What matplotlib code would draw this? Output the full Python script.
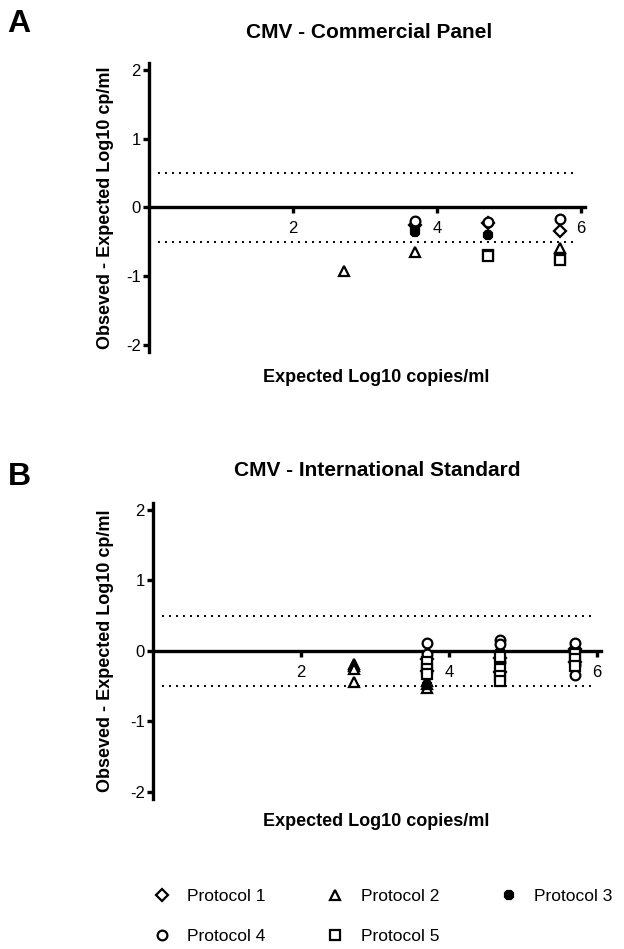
import matplotlib
matplotlib.use("Agg")
import matplotlib.pyplot as plt
from matplotlib.lines import Line2D

plt.rcParams['font.family'] = ['Liberation Sans', 'DejaVu Sans']
plt.rcParams['axes.unicode_minus'] = False

# Panel A - commercial panel (expected log10 copies/ml, observed - expected)
a_p1_x = [3.69, 4.70, 5.70]
a_p1_y = [-0.25, -0.23, -0.34]
a_p2_x = [2.71, 3.69, 5.70]
a_p2_y = [-0.92, -0.64, -0.59]
a_p3_x = [3.69, 3.69, 4.70]
a_p3_y = [-0.30, -0.35, -0.40]
a_p4_x = [3.69, 4.70, 5.70]
a_p4_y = [-0.19, -0.21, -0.17]
a_p5_x = [4.70, 4.70, 5.70, 5.70]
a_p5_y = [-0.69, -0.71, -0.74, -0.77]

# Panel B - international standard
b_p1_x = [3.70, 3.70, 4.69, 4.69, 5.70, 5.70]
b_p1_y = [-0.12, -0.28, -0.10, -0.30, 0.03, -0.15]
b_p2_x = [2.71, 2.71, 2.71, 2.71, 3.70, 3.70, 3.70]
b_p2_y = [-0.18, -0.22, -0.26, -0.44, -0.43, -0.47, -0.52]
b_p3_x = [3.70, 3.70, 3.70, 4.69, 4.69, 5.70, 5.70]
b_p3_y = [-0.20, -0.35, -0.48, -0.02, -0.20, 0.10, -0.08]
b_p4_x = [3.70, 3.70, 4.69, 4.69, 4.69, 5.70, 5.70, 5.70]
b_p4_y = [0.11, -0.04, 0.15, 0.10, -0.15, 0.11, -0.20, -0.34]
b_p5_x = [3.70, 3.70, 3.70, 4.69, 4.69, 4.69, 4.69, 5.70, 5.70, 5.70]
b_p5_y = [-0.15, -0.25, -0.32, -0.08, -0.25, -0.35, -0.42, -0.05, -0.12, -0.22]

protocols = ['Protocol 1', 'Protocol 2', 'Protocol 3', 'Protocol 4', 'Protocol 5']
markers = ['D', '^', '8', 'o', 's']
filled = [False, False, True, False, False]
msizes = [6, 6.5, 6, 7, 6.5]

limits = [-0.5, 0.5]


def style_axes(ax):
    ax.set_xlim(0, 6.05)
    ax.set_ylim(-2.1, 2.1)
    ax.spines['top'].set_visible(False)
    ax.spines['right'].set_visible(False)
    ax.spines['bottom'].set_position(('data', 0))
    ax.spines['left'].set_linewidth(2.4)
    ax.spines['bottom'].set_linewidth(2.4)
    ax.set_xticks([2, 4, 6])
    ax.set_yticks([-2, -1, 0, 1, 2])
    ax.tick_params(axis='both', direction='out', length=4, width=2.4, labelsize=12)
    ax.tick_params(axis='x', pad=6)
    ax.tick_params(axis='y', pad=2)
    for lim in limits:
        ax.plot([0.12, 5.95], [lim, lim], color='black', lw=1.4, linestyle=(0, (1, 2.6)))


def draw_points(ax, xs, ys):
    for i in range(5):
        ax.plot(xs[i], ys[i], linestyle='none', marker=markers[i], markersize=msizes[i],
                markerfacecolor='black' if filled[i] else 'white',
                markeredgecolor='black', markeredgewidth=1.6, clip_on=False, zorder=3)


fig = plt.figure(figsize=(6.24, 9.49), dpi=100)

ax_a = fig.add_axes([0.2388, 0.6291, 0.6983, 0.3045])
style_axes(ax_a)
draw_points(ax_a, [a_p1_x, a_p2_x, a_p3_x, a_p4_x, a_p5_x],
            [a_p1_y, a_p2_y, a_p3_y, a_p4_y, a_p5_y])
ax_a.set_ylabel('Obseved - Expected Log10 cp/ml', fontsize=13, fontweight='bold')
ax_a.yaxis.set_label_coords(-0.080, 0.5)

ax_b = fig.add_axes([0.2452, 0.1581, 0.7176, 0.3119])
style_axes(ax_b)
draw_points(ax_b, [b_p1_x, b_p2_x, b_p3_x, b_p4_x, b_p5_x],
            [b_p1_y, b_p2_y, b_p3_y, b_p4_y, b_p5_y])
ax_b.set_ylabel('Obseved - Expected Log10 cp/ml', fontsize=13, fontweight='bold')
ax_b.yaxis.set_label_coords(-0.086, 0.5)

# titles, axis labels and panel letters
fig.text(369 / 624, 1 - 33 / 949, 'CMV - Commercial Panel', ha='center', va='center',
         fontsize=15, fontweight='bold')
fig.text(377 / 624, 1 - 471 / 949, 'CMV - International Standard', ha='center', va='center',
         fontsize=15, fontweight='bold')
fig.text(376 / 624, 1 - 377 / 949, 'Expected Log10 copies/ml', ha='center', va='center',
         fontsize=13, fontweight='bold')
fig.text(376 / 624, 1 - 822 / 949, 'Expected Log10 copies/ml', ha='center', va='center',
         fontsize=13, fontweight='bold')
fig.text(7 / 624, 1 - 24 / 949, 'A', ha='left', va='center', fontsize=23, fontweight='bold')
fig.text(8 / 624, 1 - 477 / 949, 'B', ha='left', va='center', fontsize=23, fontweight='bold')

# legend, laid out row by row like the original
handles = []
for i in range(5):
    handles.append(Line2D([], [], linestyle='none', marker=markers[i], markersize=msizes[i],
                          markerfacecolor='black' if filled[i] else 'white',
                          markeredgecolor='black', markeredgewidth=1.6, label=protocols[i]))
order = [0, 3, 1, 4, 2]
fig.legend([handles[i] for i in order], [protocols[i] for i in order], ncol=3,
           loc='upper left', bbox_to_anchor=(138 / 624, 1 - 873 / 949), frameon=False,
           fontsize=12.5, handlelength=1.0, handletextpad=0.95, columnspacing=3.5,
           labelspacing=1.45, borderpad=0.4)

fig.savefig('out.png', dpi=100)
